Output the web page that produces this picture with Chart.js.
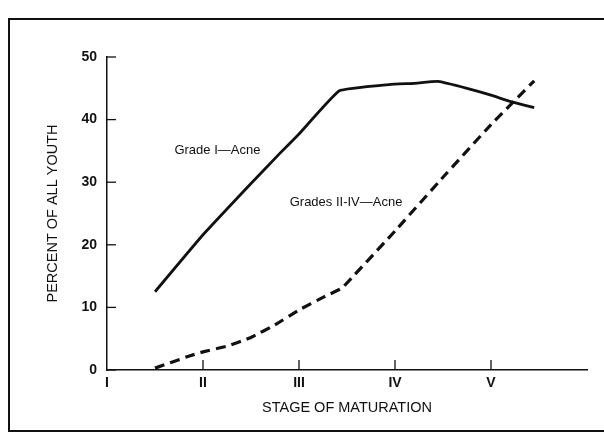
<!DOCTYPE html>
<html>
<head>
<meta charset="utf-8">
<script src="https://cdn.jsdelivr.net/npm/chart.js@4"></script>
<style>
  body { margin: 0; background: #fff; }
  #wrap { position: relative; width: 604px; height: 438px; }
  #frame { position: absolute; left: 8px; top: 18px; width: 620px; height: 410px; border: 2px solid #111; }
</style>
</head>
<body>
<div id="wrap">
  <div id="frame"></div>
  <canvas id="acneChart"></canvas>
</div>
<script>
// Etapas de maduracion (I..V) y porcentajes
const stageLabels = ['I', 'II', 'III', 'IV', 'V'];
const yTicks = [0, 10, 20, 30, 40, 50];

const gradeIStages = [1.5, 2.0, 2.5, 2.8, 3.0, 3.42, 3.94, 4.2, 4.45, 4.75, 5.0, 5.2, 5.45];
const gradeIValues = [12.5, 21.6, 29.8, 34.6, 37.7, 44.6, 45.6, 45.8, 46.1, 45.0, 43.9, 42.9, 41.9];

const gradeIIStages = [1.5, 1.85, 2.0, 2.25, 2.5, 2.75, 3.0, 3.25, 3.45, 4.0, 4.5, 5.0, 5.45];
const gradeIIValues = [0.3, 2.2, 2.9, 3.8, 5.2, 7.2, 9.6, 11.6, 13.1, 22.2, 30.8, 39.2, 46.2];

const gradeILabel = 'Grade I—Acne';
const gradeIILabel = 'Grades II-IV—Acne';

const toPoints = (xs, ys) => xs.map((x, i) => ({ x: x, y: ys[i] }));

const fontFamily = '"Liberation Sans", Arial, sans-serif';

// Marcas cortas hacia dentro y etiquetas de las curvas
const innerTicks = {
    id: 'innerTicks',
    afterDraw(chart) {
        const ctx = chart.ctx;
        const x = chart.scales.x;
        const y = chart.scales.y;
        ctx.save();
        ctx.strokeStyle = '#111';
        ctx.lineWidth = 1.3;
        yTicks.forEach(v => {
            const py = y.getPixelForValue(v);
            ctx.beginPath();
            ctx.moveTo(x.left, py);
            ctx.lineTo(x.left + 9, py);
            ctx.stroke();
        });
        for (let s = 2; s <= stageLabels.length; s++) {
            const px = x.getPixelForValue(s);
            ctx.beginPath();
            ctx.moveTo(px, y.bottom);
            ctx.lineTo(px, y.bottom - 10);
            ctx.stroke();
        }
        ctx.fillStyle = '#111';
        ctx.font = '13px ' + fontFamily;
        ctx.textAlign = 'center';
        ctx.textBaseline = 'middle';
        ctx.fillText(gradeILabel, x.getPixelForValue(2.15), y.getPixelForValue(35.1));
        ctx.fillText(gradeIILabel, x.getPixelForValue(3.49), y.getPixelForValue(26.8));
        ctx.restore();
    }
};

const ctx = document.getElementById('acneChart').getContext('2d');
new Chart(ctx, {
    type: 'line',
    data: {
        datasets: [{
            label: gradeILabel,
            data: toPoints(gradeIStages, gradeIValues),
            borderColor: '#111',
            borderWidth: 2.8,
            pointRadius: 0,
            tension: 0.1,
            fill: false
        }, {
            label: gradeIILabel,
            data: toPoints(gradeIIStages, gradeIIValues),
            borderColor: '#111',
            borderWidth: 3.2,
            borderDash: [10, 6],
            pointRadius: 0,
            tension: 0.05,
            fill: false
        }]
    },
    options: {
        responsive: true,
        maintainAspectRatio: false,
        animation: false,
        layout: {
            padding: { left: 0, right: 17, top: 57, bottom: 0 }
        },
        plugins: {
            legend: { display: false },
            tooltip: { enabled: false }
        },
        scales: {
            x: {
                type: 'linear',
                min: 1,
                max: 6,
                afterFit: (scale) => { scale.height = 68; },
                ticks: {
                    stepSize: 1,
                    padding: 5,
                    color: '#111',
                    font: { family: fontFamily, size: 14, weight: 'bold' },
                    maxRotation: 0,
                    callback: (v) => stageLabels[v - 1] || ''
                },
                grid: { drawOnChartArea: false, drawTicks: false },
                border: { color: '#111', width: 1.5 },
                title: {
                    display: true,
                    text: 'STAGE OF MATURATION',
                    color: '#111',
                    font: { family: fontFamily, size: 14.5 },
                    padding: { top: 0, bottom: 21 }
                }
            },
            y: {
                min: 0,
                max: 50,
                afterFit: (scale) => { scale.width = 107; },
                ticks: {
                    stepSize: 10,
                    padding: 10,
                    color: '#111',
                    font: { family: fontFamily, size: 14, weight: 'bold' }
                },
                grid: { drawOnChartArea: false, drawTicks: false },
                border: { color: '#111', width: 1.5 },
                title: {
                    display: true,
                    text: 'PERCENT OF ALL YOUTH',
                    color: '#111',
                    font: { family: fontFamily, size: 14.5 },
                    padding: { top: 44, bottom: 0 }
                }
            }
        }
    },
    plugins: [innerTicks]
});
</script>
</body>
</html>
